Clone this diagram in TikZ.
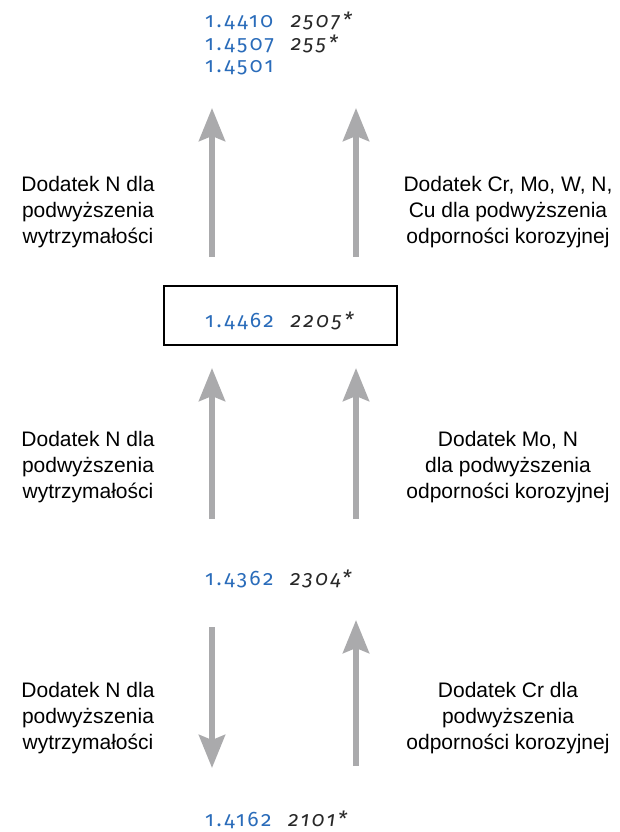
\documentclass[tikz,border=0pt]{standalone}
\usepackage{xcolor}
\usepackage{fontspec}
\setmainfont{Liberation Sans}
\newfontfamily\numfont[Numbers=OldStyle, LetterSpace=12]{Fira Sans}
\usetikzlibrary{arrows.meta}
\definecolor{wnrblue}{RGB}{42,108,186}
\definecolor{liftgray}{RGB}{170,170,172}
\definecolor{aisigray}{RGB}{40,40,40}
\newcommand{\wnr}[1]{\textcolor{wnrblue}{#1}}
\newcommand{\aisi}[1]{\textcolor{aisigray}{\itshape #1}}

\begin{document}
\begin{tikzpicture}[x=1pt, y=-1pt,
    grade/.style={font=\numfont\fontsize{21}{22.5}\selectfont, inner sep=0pt, anchor=west},
    note/.style={font=\fontsize{21}{26}\selectfont, align=center, inner sep=0pt},
    lift/.style={line width=6pt, liftgray, -{Stealth[length=33pt, width=26pt, inset=5pt]}}]
    \useasboundingbox (0,0) rectangle (620,832);
    % Grades, top to bottom
    \node[grade] (top) at (205,46) {%
        \begin{tabular}{@{}l@{\hspace{17pt}}l@{}}
        \wnr{1.4410} & \aisi{2507*}\\
        \wnr{1.4507} & \aisi{255*}\\
        \wnr{1.4501} &
        \end{tabular}};
    \node[draw, line width=1.2pt, minimum width=233pt, minimum height=59pt] (duplex) at (280.5,315.5) {};
    \node[grade] (mid) at (205,321) {\wnr{1.4462}\hspace{17pt}\aisi{2205*}};
    \node[grade] (lean) at (205,579) {\wnr{1.4362}\hspace{17pt}\aisi{2304*}};
    \node[grade] (low) at (205,820) {\wnr{1.4162}\hspace{17pt}\aisi{2101*}};
    % Arrow ends
    \coordinate (l1s) at (212,257); \coordinate (l1e) at (212,108);
    \coordinate (r1s) at (356,257); \coordinate (r1e) at (356,108);
    \coordinate (l2s) at (212,519); \coordinate (l2e) at (212,368);
    \coordinate (r2s) at (356,519); \coordinate (r2e) at (356,368);
    \coordinate (l3s) at (212,627); \coordinate (l3e) at (212,768);
    \coordinate (r3s) at (356,766); \coordinate (r3e) at (356,620);
    \draw[lift] (l1s) -- (l1e);
    \draw[lift] (r1s) -- (r1e);
    \draw[lift] (l2s) -- (l2e);
    \draw[lift] (r2s) -- (r2e);
    \draw[lift] (l3s) -- (l3e);
    \draw[lift] (r3s) -- (r3e);
    % Labels
    \node[note] (n1) at (88,212) {Dodatek N dla\\podwyższenia\\wytrzymałości};
    \node[note] (c1) at (508,212) {Dodatek Cr, Mo, W, N,\\Cu dla podwyższenia\\odporności korozyjnej};
    \node[note] (n2) at (88,467) {Dodatek N dla\\podwyższenia\\wytrzymałości};
    \node[note] (c2) at (508,467) {Dodatek Mo, N\\dla podwyższenia\\odporności korozyjnej};
    \node[note] (n3) at (88,718) {Dodatek N dla\\podwyższenia\\wytrzymałości};
    \node[note] (c3) at (508,718) {Dodatek Cr dla\\podwyższenia\\odporności korozyjnej};
\end{tikzpicture}
\end{document}
